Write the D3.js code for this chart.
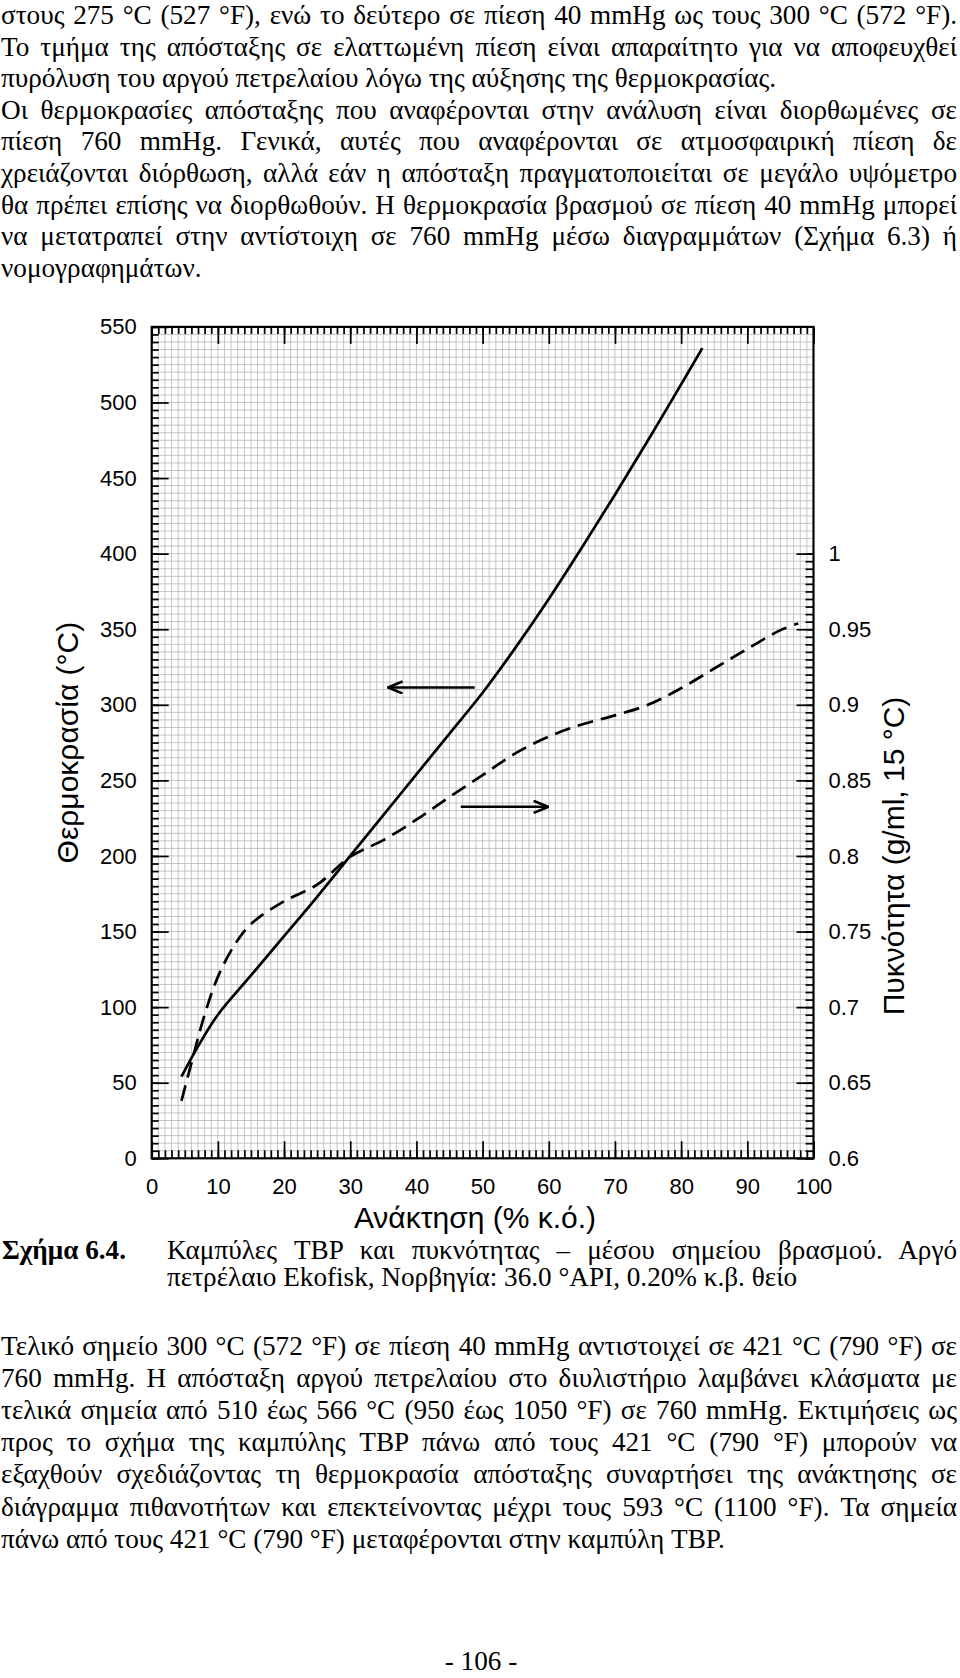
<!DOCTYPE html>
<html>
<head>
<meta charset="utf-8">
<script src="https://cdn.jsdelivr.net/npm/d3@7"></script>
<style>
  body { margin: 0; background: #fff; }
  svg { display: block; }
  .body-text { font-family: "Liberation Serif", "Times New Roman", serif; font-size: 27.2px; fill: #000; }
  .axis text { font-family: "Liberation Sans", Arial, sans-serif; font-size: 22px; fill: #000; }
  .axis-title { font-family: "Liberation Sans", Arial, sans-serif; font-size: 30px; fill: #000; }
</style>
</head>
<body>
<svg id="page" width="960" height="1678"></svg>
<script>
// ---- chart data ----
const tempTicks = [0, 50, 100, 150, 200, 250, 300, 350, 400, 450, 500, 550];
const tempLabels = ["0", "50", "100", "150", "200", "250", "300", "350", "400", "450", "500", "550"];
const recoveryTicks = [0, 10, 20, 30, 40, 50, 60, 70, 80, 90, 100];
const recoveryLabels = ["0", "10", "20", "30", "40", "50", "60", "70", "80", "90", "100"];
const densityTicks = [0.6, 0.65, 0.7, 0.75, 0.8, 0.85, 0.9, 0.95, 1.0];
const densityLabels = ["0.6", "0.65", "0.7", "0.75", "0.8", "0.85", "0.9", "0.95", "1"];

// TBP curve: recovery (% vol) -> temperature (°C)
const tbpRecovery = [4.5, 7, 10, 15, 20, 25, 30, 35, 40, 45, 50, 55, 60, 65, 70, 75, 80, 83.2];
const tbpTemp = [54, 74, 95, 121, 147, 173, 200, 227, 254, 281, 308, 338, 370, 404, 439, 475, 512, 536];

// mid-boiling-point density curve: recovery -> density (g/ml, 15 °C)
const densRecovery = [4.5, 6, 8, 10, 12.5, 15, 20, 25, 30, 35, 40, 45, 50, 55, 60, 65, 70, 75, 80, 85, 90, 95, 97.7];
const densValue = [0.638, 0.663, 0.695, 0.720, 0.741, 0.755, 0.770, 0.781, 0.7995, 0.8105, 0.824, 0.839, 0.8535, 0.868, 0.879, 0.887, 0.893, 0.900, 0.911, 0.924, 0.937, 0.9494, 0.9538];

// arrows telling which axis each curve belongs to
const arrowStart = [48.8, 46.7];
const arrowEnd = [35.7, 59.9];
const arrowLevel = [311.5, 0.8325];   // first on temperature axis, second on density axis

// ---- surrounding text ----
const topLines = [
  "στους 275 °C (527 °F), ενώ το δεύτερο σε πίεση 40 mmHg ως τους  300 °C (572 °F).",
  "Το τμήμα της απόσταξης σε ελαττωμένη πίεση είναι απαραίτητο για να αποφευχθεί",
  "πυρόλυση του αργού πετρελαίου λόγω της αύξησης της θερμοκρασίας.",
  "Οι θερμοκρασίες απόσταξης που αναφέρονται στην ανάλυση είναι διορθωμένες σε",
  "πίεση 760 mmHg. Γενικά, αυτές που αναφέρονται σε ατμοσφαιρική πίεση δε",
  "χρειάζονται διόρθωση, αλλά εάν η απόσταξη πραγματοποιείται σε μεγάλο υψόμετρο",
  "θα πρέπει επίσης να διορθωθούν. Η θερμοκρασία βρασμού σε πίεση 40 mmHg μπορεί",
  "να μετατραπεί στην αντίστοιχη σε 760 mmHg μέσω διαγραμμάτων (Σχήμα 6.3) ή",
  "νομογραφημάτων."
];
const topJustify = [true, true, false, true, true, true, true, true, false];

const captionLabel = "Σχήμα 6.4.";
const captionLines = [
  "Καμπύλες TBP και πυκνότητας – μέσου σημείου βρασμού. Αργό",
  "πετρέλαιο Ekofisk, Νορβηγία: 36.0 °API, 0.20% κ.β. θείο"
];
const captionJustify = [true, false];

const bottomLines = [
  "Τελικό σημείο 300 °C (572 °F) σε πίεση 40 mmHg αντιστοιχεί σε 421 °C (790 °F) σε",
  "760 mmHg. Η απόσταξη αργού πετρελαίου στο διυλιστήριο λαμβάνει κλάσματα με",
  "τελικά σημεία από 510 έως 566 °C (950 έως 1050 °F) σε 760 mmHg. Εκτιμήσεις ως",
  "προς το σχήμα της καμπύλης TBP πάνω από τους 421 °C (790 °F) μπορούν να",
  "εξαχθούν σχεδιάζοντας τη θερμοκρασία απόσταξης συναρτήσει της ανάκτησης σε",
  "διάγραμμα πιθανοτήτων και επεκτείνοντας μέχρι τους 593 °C (1100 °F). Τα σημεία",
  "πάνω από τους 421 °C (790 °F) μεταφέρονται στην καμπύλη TBP."
];
const bottomJustify = [true, true, true, true, true, true, false];

const pageNumber = "- 106 -";

// ---- layout ----
const svg = d3.select('#page');
svg.append('rect').attr('width', 960).attr('height', 1678).attr('fill', '#fff');

const plot = { left: 151.7, right: 813.5, top: 326.9, bottom: 1158.3 };

const x = d3.scaleLinear().domain([0, 100]).range([plot.left, plot.right]);
const y = d3.scaleLinear().domain([0, 550]).range([plot.bottom, plot.top]);
const yD = d3.scaleLinear().domain([0.6, 1.0]).range([y(0), y(400)]);

// paragraph writer, justified lines get extra word spacing
function writeLines(lines, justify, x0, x1, firstBaseline, step) {
  lines.forEach((t, i) => {
    const s = t.replace(/ +/g, ' ');
    const txt = svg.append('text')
      .attr('class', 'body-text')
      .attr('x', x0)
      .attr('y', firstBaseline + i * step)
      .text(s);
    if (justify[i]) {
      const w = txt.node().getComputedTextLength();
      const gaps = (s.match(/ /g) || []).length;
      if (gaps > 0) txt.attr('word-spacing', (x1 - x0 - w) / gaps);
    }
  });
}

writeLines(topLines, topJustify, 1, 957, 24, 31.6);

// grid
const grid = svg.append('g').attr('class', 'grid');
grid.selectAll('line.v')
  .data(d3.range(1, 100))
  .join('line')
  .attr('class', 'v')
  .attr('x1', d => x(d)).attr('x2', d => x(d))
  .attr('y1', plot.top).attr('y2', plot.bottom)
  .attr('stroke', '#b8b8b8').attr('stroke-width', 0.8);
grid.selectAll('line.h')
  .data(d3.range(5, 550, 5))
  .join('line')
  .attr('class', 'h')
  .attr('x1', plot.left).attr('x2', plot.right)
  .attr('y1', d => y(d)).attr('y2', d => y(d))
  .attr('stroke', '#b8b8b8').attr('stroke-width', 0.8);

// axes: ticks drawn inwards
function styleAxis(g) {
  g.attr('class', 'axis');
  g.select('.domain').remove();
  g.selectAll('.tick line').attr('stroke', '#000').attr('stroke-width', 1.7);
  g.attr('font-size', null).attr('font-family', null);
}

// minor ticks
svg.append('g').attr('transform', `translate(0,${plot.bottom})`)
  .call(d3.axisBottom(x).tickValues(d3.range(0, 101, 1)).tickSize(-8).tickFormat(''))
  .call(styleAxis);
svg.append('g').attr('transform', `translate(0,${plot.top})`)
  .call(d3.axisTop(x).tickValues(d3.range(0, 101, 1)).tickSize(-7).tickFormat(''))
  .call(styleAxis);
svg.append('g').attr('transform', `translate(${plot.left},0)`)
  .call(d3.axisLeft(y).tickValues(d3.range(0, 551, 5)).tickSize(-7).tickFormat(''))
  .call(styleAxis);
svg.append('g').attr('transform', `translate(${plot.right},0)`)
  .call(d3.axisRight(yD).tickValues(d3.range(0, 81).map(i => 0.6 + i * 0.005)).tickSize(-8).tickFormat(''))
  .call(styleAxis);

// major ticks with labels
svg.append('g').attr('transform', `translate(0,${plot.bottom})`)
  .call(d3.axisBottom(x).tickValues(recoveryTicks).tickSize(-17).tickPadding(20)
    .tickFormat((d, i) => recoveryLabels[i]))
  .call(styleAxis);
svg.append('g').attr('transform', `translate(0,${plot.top})`)
  .call(d3.axisTop(x).tickValues(recoveryTicks).tickSize(-17).tickFormat(''))
  .call(styleAxis);
svg.append('g').attr('transform', `translate(${plot.left},0)`)
  .call(d3.axisLeft(y).tickValues(tempTicks).tickSize(-17).tickPadding(15)
    .tickFormat((d, i) => tempLabels[i]))
  .call(styleAxis);
svg.append('g').attr('transform', `translate(${plot.right},0)`)
  .call(d3.axisRight(yD).tickValues(densityTicks).tickSize(-17).tickPadding(15)
    .tickFormat((d, i) => densityLabels[i]))
  .call(styleAxis);

// frame
svg.append('rect')
  .attr('x', plot.left).attr('y', plot.top)
  .attr('width', plot.right - plot.left).attr('height', plot.bottom - plot.top)
  .attr('fill', 'none').attr('stroke', '#000').attr('stroke-width', 2.2);

// curves
const tbpLine = d3.line()
  .x((d, i) => x(tbpRecovery[i]))
  .y(d => y(d))
  .curve(d3.curveCatmullRom.alpha(0.5));
svg.append('path')
  .datum(tbpTemp)
  .attr('d', tbpLine)
  .attr('fill', 'none').attr('stroke', '#000').attr('stroke-width', 2.7);

const densLine = d3.line()
  .x((d, i) => x(densRecovery[i]))
  .y(d => yD(d))
  .curve(d3.curveCatmullRom.alpha(0.5));
svg.append('path')
  .datum(densValue)
  .attr('d', densLine)
  .attr('fill', 'none').attr('stroke', '#000').attr('stroke-width', 2.7)
  .attr('stroke-dasharray', '16,8');

// arrows
svg.append('defs').append('marker')
  .attr('id', 'head')
  .attr('viewBox', '0 0 17 14')
  .attr('refX', 16).attr('refY', 7)
  .attr('markerWidth', 17).attr('markerHeight', 14)
  .attr('markerUnits', 'userSpaceOnUse')
  .attr('orient', 'auto')
  .append('path')
  .attr('d', 'M1.5,1 L16,7 L1.5,13')
  .attr('fill', 'none').attr('stroke', '#000').attr('stroke-width', 2.6);

const levelScale = [y, yD];
arrowStart.forEach((s, i) => {
  const ly = levelScale[i](arrowLevel[i]);
  svg.append('line')
    .attr('x1', x(s)).attr('x2', x(arrowEnd[i]))
    .attr('y1', ly).attr('y2', ly)
    .attr('stroke', '#000').attr('stroke-width', 2.5)
    .attr('marker-end', 'url(#head)');
});

// axis titles
svg.append('text')
  .attr('class', 'axis-title')
  .attr('x', 475).attr('y', 1228)
  .attr('text-anchor', 'middle')
  .text('Ανάκτηση (% κ.ό.)');
svg.append('text')
  .attr('class', 'axis-title')
  .attr('transform', `translate(78,${(plot.top + plot.bottom) / 2}) rotate(-90)`)
  .attr('text-anchor', 'middle')
  .text('Θερμοκρασία (°C)');
svg.append('text')
  .attr('class', 'axis-title')
  .attr('transform', `translate(904,${(yD(0.6) + yD(1.0)) / 2}) rotate(-90)`)
  .attr('text-anchor', 'middle')
  .text('Πυκνότητα (g/ml, 15 °C)');

// caption
svg.append('text')
  .attr('class', 'body-text')
  .attr('x', 2).attr('y', 1259)
  .attr('font-weight', 'bold')
  .text(captionLabel);
writeLines(captionLines, captionJustify, 167, 957, 1259, 27);

writeLines(bottomLines, bottomJustify, 1, 957, 1355, 32.1);

svg.append('text')
  .attr('class', 'body-text')
  .attr('x', 481).attr('y', 1670)
  .attr('text-anchor', 'middle')
  .text(pageNumber);
</script>
</body>
</html>
